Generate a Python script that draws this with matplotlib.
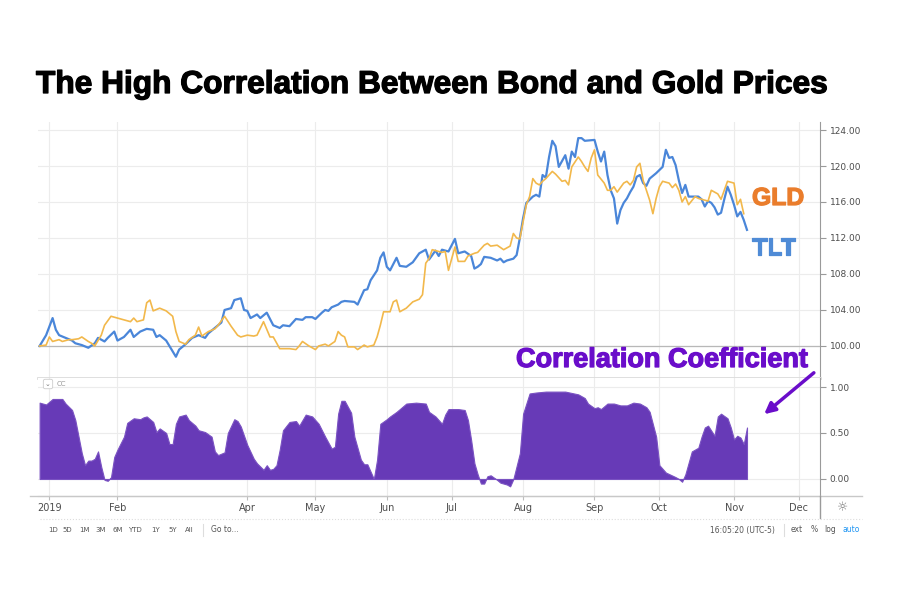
import matplotlib.pyplot as plt
import matplotlib.patheffects as pe
from matplotlib.lines import Line2D
from matplotlib.patches import FancyArrowPatch

# trading-session index (0 = first session of 2019) and values
tlt_day = [-3, -1, 1, 2, 3, 5, 7, 8, 10, 12, 14, 15, 17, 18, 20, 21, 23, 25, 26, 28, 30, 32, 33, 34, 36, 37, 39, 40,
           42, 44, 46, 48, 49, 51, 53, 54, 56, 57, 59, 60, 61, 62, 64, 65, 67, 68, 69, 71, 72, 74, 76, 78, 79, 81, 82,
           84, 85, 86, 87, 89, 90, 91, 94, 95, 97, 98, 99, 101, 102, 103, 104, 105, 107, 108, 110, 112, 114, 116, 117,
           119, 120, 121, 123, 125, 126, 128, 130, 131, 132, 133, 134, 136, 138, 139, 140, 141, 143, 144, 145, 146,
           147, 149, 150, 151, 152, 153, 154, 155, 156, 157, 159, 160, 161, 162, 163, 164, 165, 168, 169, 170, 171,
           172, 173, 174, 175, 176, 177, 178, 179, 180, 181, 182, 183, 184, 185, 187, 189, 190, 191, 192, 193, 194,
           195, 196, 197, 198, 200, 201, 202, 203, 204, 205, 206, 207, 208, 209, 210, 211, 212, 213, 214, 215]
tlt_val = [100.0, 101.2, 103.1, 101.8, 101.2, 100.9, 100.6, 100.3, 100.1, 99.8, 100.3, 100.9, 100.5, 100.9, 101.6,
           100.6, 101.0, 101.8, 101.0, 101.6, 101.9, 101.8, 101.0, 101.2, 100.6, 100.0, 98.8, 99.6, 100.2, 100.9,
           101.2, 100.9, 101.4, 102.0, 102.6, 104.0, 104.2, 105.1, 105.3, 104.0, 103.9, 103.1, 103.5, 103.1, 103.7,
           103.0, 102.3, 102.0, 102.3, 102.2, 103.0, 102.9, 103.2, 103.2, 103.0, 103.7, 104.0, 103.9, 104.3, 104.6,
           104.9, 105.0, 104.9, 104.6, 106.2, 106.3, 107.3, 108.4, 109.8, 110.4, 108.8, 108.4, 109.8, 108.9, 108.8,
           109.3, 110.3, 110.7, 109.6, 110.6, 110.0, 110.7, 110.5, 111.9, 110.3, 110.5, 110.0, 108.6, 108.8, 109.1,
           109.9, 109.8, 109.5, 109.7, 109.3, 109.5, 109.7, 110.1, 112.0, 114.2, 115.9, 116.6, 116.8, 116.6, 119.0,
           118.7, 121.0, 122.8, 122.2, 119.9, 121.2, 119.7, 121.6, 121.0, 123.1, 123.1, 122.8, 122.9, 121.6, 120.5,
           121.6, 119.0, 117.3, 116.4, 113.6, 115.1, 115.9, 116.4, 117.1, 117.7, 118.8, 119.0, 118.1, 117.8, 118.6,
           119.2, 119.9, 121.8, 120.9, 121.0, 120.1, 118.4, 117.0, 117.9, 116.6, 116.6, 116.6, 116.3, 115.5, 116.1,
           115.9, 115.4, 114.6, 114.8, 116.3, 117.7, 116.8, 115.7, 114.4, 114.9, 114.0, 112.9]

gld_day = [-3, -1, 0, 1, 3, 4, 6, 7, 9, 10, 12, 13, 14, 16, 17, 19, 21, 23, 25, 26, 27, 29, 30, 31, 32, 34, 36, 38,
           39, 40, 42, 43, 45, 46, 47, 49, 51, 52, 54, 56, 58, 59, 61, 63, 64, 66, 68, 69, 71, 72, 74, 76, 77, 78, 80,
           82, 83, 85, 86, 88, 89, 90, 91, 92, 94, 95, 97, 98, 100, 101, 102, 103, 105, 106, 107, 108, 110, 112, 114,
           115, 116, 117, 118, 120, 121, 122, 123, 125, 126, 128, 129, 131, 132, 134, 135, 136, 138, 140, 141, 142,
           143, 144, 145, 146, 147, 148, 149, 150, 151, 152, 153, 155, 156, 158, 159, 160, 161, 163, 164, 165, 166,
           167, 168, 169, 171, 172, 173, 174, 175, 177, 178, 179, 180, 181, 182, 183, 184, 185, 186, 187, 188, 189,
           191, 192, 193, 194, 195, 196, 197, 199, 200, 201, 203, 204, 206, 207, 208, 209, 211, 212, 213, 214]
gld_val = [100.0, 100.1, 101.0, 100.5, 100.7, 100.5, 100.7, 100.7, 100.8, 101.0, 100.5, 100.3, 100.0, 101.2, 102.3,
           103.3, 103.1, 102.9, 102.7, 103.1, 102.7, 102.9, 104.8, 105.1, 103.9, 104.2, 103.9, 103.3, 101.6, 100.5,
           100.2, 100.7, 101.2, 102.1, 101.1, 101.6, 101.9, 102.3, 103.3, 102.2, 101.2, 101.0, 101.2, 101.1, 101.2,
           102.7, 101.0, 101.0, 99.7, 99.7, 99.7, 99.6, 100.0, 100.5, 100.0, 99.6, 100.0, 100.2, 100.0, 100.5, 101.6,
           101.2, 101.0, 99.9, 99.9, 99.6, 100.1, 99.9, 100.1, 101.0, 102.3, 103.8, 103.8, 104.9, 105.1, 103.8,
           104.2, 104.9, 105.2, 105.7, 109.2, 109.7, 110.7, 110.5, 110.4, 110.5, 108.4, 111.0, 109.4, 109.4, 110.0,
           110.3, 110.4, 111.2, 111.4, 111.1, 111.2, 110.7, 110.9, 111.1, 112.5, 112.0, 111.9, 113.8, 115.7, 116.6,
           118.6, 118.1, 117.9, 118.3, 118.6, 119.4, 119.1, 118.3, 118.4, 117.9, 119.9, 121.0, 120.5, 119.9, 119.4,
           120.9, 121.8, 119.0, 118.1, 117.3, 117.3, 117.7, 117.1, 118.1, 118.3, 117.9, 118.4, 119.9, 120.3, 118.4,
           117.3, 116.2, 114.7, 116.4, 117.7, 118.3, 118.1, 117.6, 118.0, 117.3, 116.0, 116.6, 115.7, 116.6, 116.4,
           116.3, 116.1, 117.3, 116.9, 116.3, 117.3, 118.3, 118.1, 115.7, 116.3, 114.7]

cc_day = [-3, -1, 1, 4, 5, 7, 8, 9, 10, 11, 12, 13, 14, 15, 16, 17, 18, 19, 20, 21, 23, 24, 26, 28, 29, 30, 32, 33,
          34, 36, 37, 38, 39, 40, 42, 43, 45, 46, 48, 50, 51, 52, 54, 55, 57, 58, 59, 61, 63, 64, 66, 67, 68, 69, 70,
          71, 72, 74, 76, 77, 79, 81, 83, 85, 87, 88, 89, 90, 91, 93, 94, 96, 97, 98, 100, 101, 102, 104, 105, 107,
          110, 113, 116, 117, 119, 121, 122, 123, 126, 128, 129, 130, 131, 132, 133, 134, 135, 136, 138, 139, 141,
          142, 143, 145, 146, 148, 150, 153, 159, 163, 165, 166, 168, 169, 170, 172, 174, 176, 178, 180, 182, 184,
          185, 187, 188, 189, 190, 193, 194, 195, 196, 198, 200, 201, 202, 203, 205, 206, 207, 209, 210, 211, 212,
          213, 214, 215]
cc_val = [0.83, 0.81, 0.87, 0.87, 0.82, 0.75, 0.64, 0.46, 0.28, 0.15, 0.20, 0.20, 0.22, 0.30, 0.13, -0.01, -0.02,
          0.02, 0.24, 0.32, 0.46, 0.61, 0.66, 0.65, 0.67, 0.68, 0.62, 0.51, 0.55, 0.50, 0.38, 0.38, 0.60, 0.68, 0.70,
          0.64, 0.58, 0.53, 0.51, 0.46, 0.30, 0.26, 0.29, 0.50, 0.65, 0.63, 0.57, 0.37, 0.22, 0.17, 0.10, 0.15, 0.10,
          0.11, 0.15, 0.32, 0.53, 0.62, 0.63, 0.58, 0.70, 0.68, 0.60, 0.46, 0.33, 0.35, 0.71, 0.85, 0.85, 0.72, 0.46,
          0.21, 0.16, 0.16, 0.00, 0.21, 0.60, 0.65, 0.68, 0.73, 0.82, 0.83, 0.82, 0.73, 0.68, 0.60, 0.70, 0.76, 0.76,
          0.75, 0.64, 0.42, 0.17, 0.05, -0.05, -0.05, 0.03, 0.04, -0.01, -0.04, -0.06, -0.08, 0.00, 0.28, 0.71, 0.93,
          0.94, 0.95, 0.95, 0.92, 0.88, 0.82, 0.77, 0.78, 0.76, 0.82, 0.82, 0.80, 0.80, 0.83, 0.82, 0.78, 0.73, 0.46,
          0.15, 0.11, 0.07, 0.02, 0.00, -0.03, 0.05, 0.30, 0.34, 0.46, 0.56, 0.58, 0.47, 0.68, 0.71, 0.66, 0.56, 0.43,
          0.47, 0.45, 0.38, 0.56]

month_day = [0, 21, 61, 82, 104, 124, 146, 168, 188, 211, 231]
month_lab = ['2019', 'Feb', 'Apr', 'May', 'Jun', 'Jul', 'Aug', 'Sep', 'Oct', 'Nov', 'Dec']
price_ticks = [100, 104, 108, 112, 116, 120, 124]
cc_ticks = [0.0, 0.5, 1.0]

W, H = 900, 600
fig = plt.figure(figsize=(9, 6), dpi=100)


def fx(px):
    return px / W


def fy(py):
    return 1 - py / H


def heavy(color):
    # epaissit un peu le gras pour approcher une police type "Black"
    return [pe.withStroke(linewidth=0.9, foreground=color)]


grid_c = '#ececec'
axis_c = '#9a9a9a'
lab_c = '#4d4d4d'
purple = '#6a0dca'

# panneau du haut : prix
ax = fig.add_axes([fx(38), fy(378), (820 - 38) / W, (378 - 122) / H])
ax.plot(tlt_day, tlt_val, color='#4a86d9', lw=1.6, zorder=3)
ax.plot(gld_day, gld_val, color='#f2b84b', lw=1.2, zorder=4)
ax.axhline(100, color='#b8b8b8', lw=0.9, zorder=2)
ax.set_xlim(-3.5, 237.5)
ax.set_ylim(96.44, 124.89)
ax.set_xticks(month_day)
ax.set_yticks(price_ticks)
ax.set_yticklabels(['{:.2f}'.format(v) for v in price_ticks])
ax.yaxis.tick_right()
ax.tick_params(axis='x', length=0, labelbottom=False)
ax.tick_params(axis='y', length=4, color=axis_c, labelsize=6.5, labelcolor=lab_c, pad=3)
ax.grid(True, color=grid_c, lw=0.8)
for s in ['top', 'left']:
    ax.spines[s].set_visible(False)
ax.spines['right'].set_color(axis_c)
ax.spines['bottom'].set_color('#dcdcdc')
ax.spines['bottom'].set_linewidth(2)

# panneau du bas : coefficient de correlation
ax2 = fig.add_axes([fx(38), fy(496), (820 - 38) / W, (496 - 378) / H])
ax2.fill_between(cc_day, 0, cc_val, color='#673ab7', lw=0.8, edgecolor='#7a52c2', zorder=3)
ax2.set_xlim(-3.5, 237.5)
ax2.set_ylim(-0.185, 1.098)
ax2.set_yticks(cc_ticks)
ax2.set_yticklabels(['{:.2f}'.format(v) for v in cc_ticks])
ax2.yaxis.tick_right()
ax2.set_xticks(month_day)
ax2.set_xticklabels(month_lab)
ax2.tick_params(axis='y', length=4, color=axis_c, labelsize=6.5, labelcolor=lab_c, pad=3)
ax2.tick_params(axis='x', length=3, color='#bdbdbd', labelsize=7, labelcolor=lab_c, pad=2)
ax2.grid(True, color=grid_c, lw=0.8)
for s in ['top', 'left']:
    ax2.spines[s].set_visible(False)
ax2.spines['right'].set_color(axis_c)
ax2.spines['bottom'].set_color('#c8c8c8')

# lignes de l'interface
fig.add_artist(Line2D([fx(30), fx(862)], [fy(496), fy(496)], color='#c8c8c8', lw=1))
fig.add_artist(Line2D([fx(820), fx(820)], [fy(496), fy(518)], color=axis_c, lw=1))
fig.add_artist(Line2D([fx(40), fx(862)], [fy(519), fy(519)], color='#dddddd', lw=0.8, ls=':'))
fig.add_artist(Line2D([fx(203), fx(203)], [fy(524), fy(536)], color='#dddddd', lw=0.8))
fig.add_artist(Line2D([fx(784), fx(784)], [fy(524), fy(536)], color='#dddddd', lw=0.8))
fig.text(fx(843), fy(508), '☼', fontsize=9, color='#777777', ha='center', va='center')

fig.text(fx(48), fy(384), '⌄', fontsize=5, color='#777777', ha='center', va='center',
         bbox=dict(boxstyle='round,pad=0.25', fc='white', ec='#cccccc', lw=0.6))
fig.text(fx(57), fy(384), 'CC', fontsize=5, color='#999999', va='center')

# barre d'outils
periods = ['1D', '5D', '1M', '3M', '6M', 'YTD', '1Y', '5Y', 'All']
period_x = [53, 67, 84, 101, 118, 135, 156, 173, 189]
for lab, px in zip(periods, period_x):
    fig.text(fx(px), fy(530), lab, fontsize=5, color='#555555', ha='center', va='center')
fig.text(fx(211), fy(530), 'Go to...', fontsize=5.5, color='#555555', va='center')
fig.text(fx(775), fy(530), '16:05:20 (UTC-5)', fontsize=5.5, color='#555555', ha='right', va='center')
fig.text(fx(797), fy(530), 'ext', fontsize=5.5, color='#555555', ha='center', va='center')
fig.text(fx(814), fy(530), '%', fontsize=5.5, color='#555555', ha='center', va='center')
fig.text(fx(830), fy(530), 'log', fontsize=5.5, color='#555555', ha='center', va='center')
fig.text(fx(851), fy(530), 'auto', fontsize=5.5, color='#2196f3', ha='center', va='center')

# titre et annotations
fig.text(fx(36), fy(93), 'The High Correlation Between Bond and Gold Prices', fontsize=22.8,
         fontweight='bold', family='Liberation Sans', color='black', va='baseline',
         path_effects=heavy('black'))
fig.text(fx(752), fy(205), 'GLD', fontsize=17.8, fontweight='bold', family='Liberation Sans',
         color='#ea7d2c', va='baseline', path_effects=heavy('#ea7d2c'))
fig.text(fx(752), fy(255), 'TLT', fontsize=17.8, fontweight='bold', family='Liberation Sans',
         color='#4f8bd6', va='baseline', path_effects=heavy('#4f8bd6'))
fig.text(fx(516), fy(367), 'Correlation Coefficient', fontsize=19.5, fontweight='bold',
         family='Liberation Sans', color=purple, va='baseline', path_effects=heavy(purple))
arrow = FancyArrowPatch((fx(816), fy(371)), (fx(762), fy(416)), transform=fig.transFigure,
                        arrowstyle='-|>', color=purple, lw=2.5, mutation_scale=16)
fig.add_artist(arrow)

plt.savefig('out.png', dpi=100)
